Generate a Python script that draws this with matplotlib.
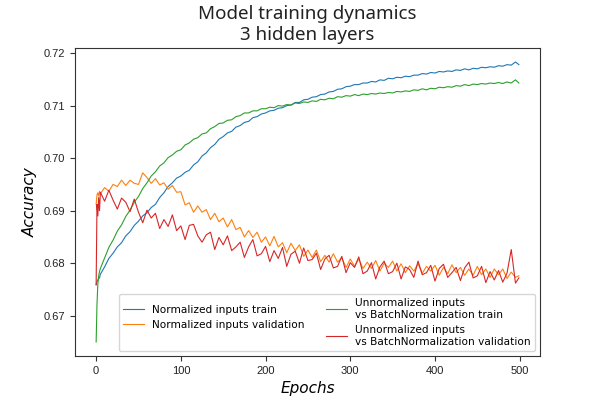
from matplotlib import pyplot as plt
import numpy as np

epochs = [0, 1, 2, 3, 4] + list(range(5, 500, 5)) + [499]

# Normalized inputs train
norm_train = [
    0.6759, 0.6765, 0.6768, 0.6771, 0.6772,
    0.6779, 0.6793, 0.6809, 0.6819, 0.6831, 0.6839, 0.6852, 0.6860, 0.6872, 0.6880,
    0.6890, 0.6896, 0.6906, 0.6912, 0.6925, 0.6934, 0.6946, 0.6953, 0.6962, 0.6966,
    0.6973, 0.6977, 0.6987, 0.6993, 0.7004, 0.7010, 0.7020, 0.7026, 0.7036, 0.7041,
    0.7048, 0.7051, 0.7059, 0.7062, 0.7068, 0.7070, 0.7077, 0.7079, 0.7084, 0.7086,
    0.7090, 0.7091, 0.7095, 0.7096, 0.7100, 0.7101, 0.7106, 0.7106, 0.7111, 0.7112,
    0.7116, 0.7117, 0.7121, 0.7122, 0.7126, 0.7127, 0.7131, 0.7132, 0.7136, 0.7137,
    0.7140, 0.7140, 0.7143, 0.7143, 0.7146, 0.7145, 0.7149, 0.7148, 0.7152, 0.7151,
    0.7154, 0.7153, 0.7156, 0.7155, 0.7158, 0.7158, 0.7161, 0.7160, 0.7163, 0.7162,
    0.7165, 0.7164, 0.7166, 0.7165, 0.7168, 0.7167, 0.7170, 0.7168, 0.7171, 0.7170,
    0.7173, 0.7172, 0.7174, 0.7173, 0.7176, 0.7175, 0.7178, 0.7177, 0.7183, 0.7178,
]

# Normalized inputs validation
norm_val = [
    0.6912, 0.6930, 0.6934, 0.6928, 0.6937,
    0.6932, 0.6944, 0.6937, 0.6950, 0.6946, 0.6958, 0.6948, 0.6958, 0.6952, 0.6950,
    0.6972, 0.6963, 0.6952, 0.6961, 0.6949, 0.6953, 0.6941, 0.6948, 0.6935, 0.6936,
    0.6911, 0.6915, 0.6897, 0.6909, 0.6897, 0.6902, 0.6883, 0.6895, 0.6879, 0.6886,
    0.6869, 0.6883, 0.6864, 0.6868, 0.6850, 0.6862, 0.6849, 0.6859, 0.6840, 0.6850,
    0.6833, 0.6851, 0.6831, 0.6839, 0.6820, 0.6838, 0.6824, 0.6835, 0.6813, 0.6825,
    0.6811, 0.6825, 0.6803, 0.6815, 0.6802, 0.6818, 0.6802, 0.6810, 0.6792, 0.6808,
    0.6794, 0.6808, 0.6790, 0.6802, 0.6790, 0.6805, 0.6785, 0.6800, 0.6792, 0.6804,
    0.6785, 0.6799, 0.6782, 0.6795, 0.6785, 0.6799, 0.6781, 0.6794, 0.6785, 0.6796,
    0.6777, 0.6792, 0.6780, 0.6797, 0.6782, 0.6792, 0.6777, 0.6789, 0.6777, 0.6794,
    0.6778, 0.6789, 0.6773, 0.6789, 0.6778, 0.6789, 0.6771, 0.6783, 0.6773, 0.6776,
]

# Unnormalized inputs vs BatchNormalization train
bn_train = [
    0.6650, 0.6722, 0.6760, 0.6776, 0.6784,
    0.6790, 0.6810, 0.6830, 0.6844, 0.6861, 0.6873, 0.6889, 0.6901, 0.6916, 0.6927,
    0.6942, 0.6953, 0.6966, 0.6974, 0.6985, 0.6991, 0.7001, 0.7006, 0.7013, 0.7016,
    0.7025, 0.7029, 0.7036, 0.7039, 0.7046, 0.7048, 0.7056, 0.7060, 0.7066, 0.7067,
    0.7072, 0.7073, 0.7079, 0.7081, 0.7086, 0.7086, 0.7090, 0.7090, 0.7094, 0.7094,
    0.7097, 0.7096, 0.7100, 0.7099, 0.7102, 0.7101, 0.7105, 0.7104, 0.7107, 0.7106,
    0.7109, 0.7108, 0.7112, 0.7111, 0.7114, 0.7113, 0.7117, 0.7116, 0.7119, 0.7118,
    0.7121, 0.7119, 0.7122, 0.7121, 0.7123, 0.7122, 0.7124, 0.7123, 0.7125, 0.7124,
    0.7127, 0.7126, 0.7128, 0.7127, 0.7130, 0.7129, 0.7132, 0.7130, 0.7133, 0.7132,
    0.7135, 0.7134, 0.7136, 0.7135, 0.7138, 0.7137, 0.7140, 0.7138, 0.7141, 0.7140,
    0.7142, 0.7141, 0.7143, 0.7142, 0.7144, 0.7142, 0.7145, 0.7143, 0.7149, 0.7143,
]

# Unnormalized inputs vs BatchNormalization validation
bn_val = [
    0.6759, 0.6912, 0.6890, 0.6925, 0.6900,
    0.6935, 0.6918, 0.6939, 0.6920, 0.6903, 0.6924, 0.6916, 0.6898, 0.6922, 0.6897,
    0.6877, 0.6901, 0.6886, 0.6895, 0.6866, 0.6883, 0.6870, 0.6892, 0.6862, 0.6871,
    0.6845, 0.6872, 0.6874, 0.6852, 0.6840, 0.6854, 0.6859, 0.6826, 0.6849, 0.6835,
    0.6852, 0.6824, 0.6831, 0.6840, 0.6811, 0.6831, 0.6845, 0.6814, 0.6818, 0.6832,
    0.6803, 0.6824, 0.6809, 0.6830, 0.6794, 0.6817, 0.6823, 0.6800, 0.6829, 0.6805,
    0.6807, 0.6819, 0.6788, 0.6808, 0.6815, 0.6791, 0.6794, 0.6813, 0.6782, 0.6801,
    0.6792, 0.6812, 0.6780, 0.6785, 0.6801, 0.6770, 0.6793, 0.6804, 0.6780, 0.6784,
    0.6800, 0.6770, 0.6793, 0.6788, 0.6773, 0.6804, 0.6778, 0.6782, 0.6796, 0.6766,
    0.6790, 0.6798, 0.6773, 0.6782, 0.6792, 0.6767, 0.6791, 0.6802, 0.6772, 0.6776,
    0.6794, 0.6763, 0.6784, 0.6768, 0.6786, 0.6764, 0.6781, 0.6826, 0.6762, 0.6772,
]

fig, ax = plt.subplots(figsize=(6, 4), dpi=100)
ax.plot(epochs, norm_train, color='tab:blue', lw=0.8, label='Normalized inputs train')
ax.plot(epochs, norm_val, color='tab:orange', lw=0.8, label='Normalized inputs validation')
ax.plot(epochs, bn_train, color='tab:green', lw=0.8, label='Unnormalized inputs\nvs BatchNormalization train')
ax.plot(epochs, bn_val, color='tab:red', lw=0.8, label='Unnormalized inputs\nvs BatchNormalization validation')

ax.set_title("Model training dynamics\n3 hidden layers", fontsize=13.5, family='Noto Sans', color='#222222')
ax.set_xlabel("Epochs", fontsize=11, style='italic')
ax.set_ylabel("Accuracy", fontsize=11, style='italic')
ax.set_yticks([0.67, 0.68, 0.69, 0.70, 0.71, 0.72])
ax.set_yticklabels(['0.67', '0.68', '0.69', '0.70', '0.71', '0.72'])
for lab in ax.get_xticklabels() + ax.get_yticklabels():
    lab.set_family('Liberation Sans')
    lab.set_fontsize(8)
for sp in ax.spines.values():
    sp.set_color('#333333')
ax.tick_params(colors='#333333', labelcolor='#222222')

ax.legend(loc='lower right', ncol=2, fontsize=7.55, framealpha=0.8)
plt.savefig('out.png', dpi=100)
